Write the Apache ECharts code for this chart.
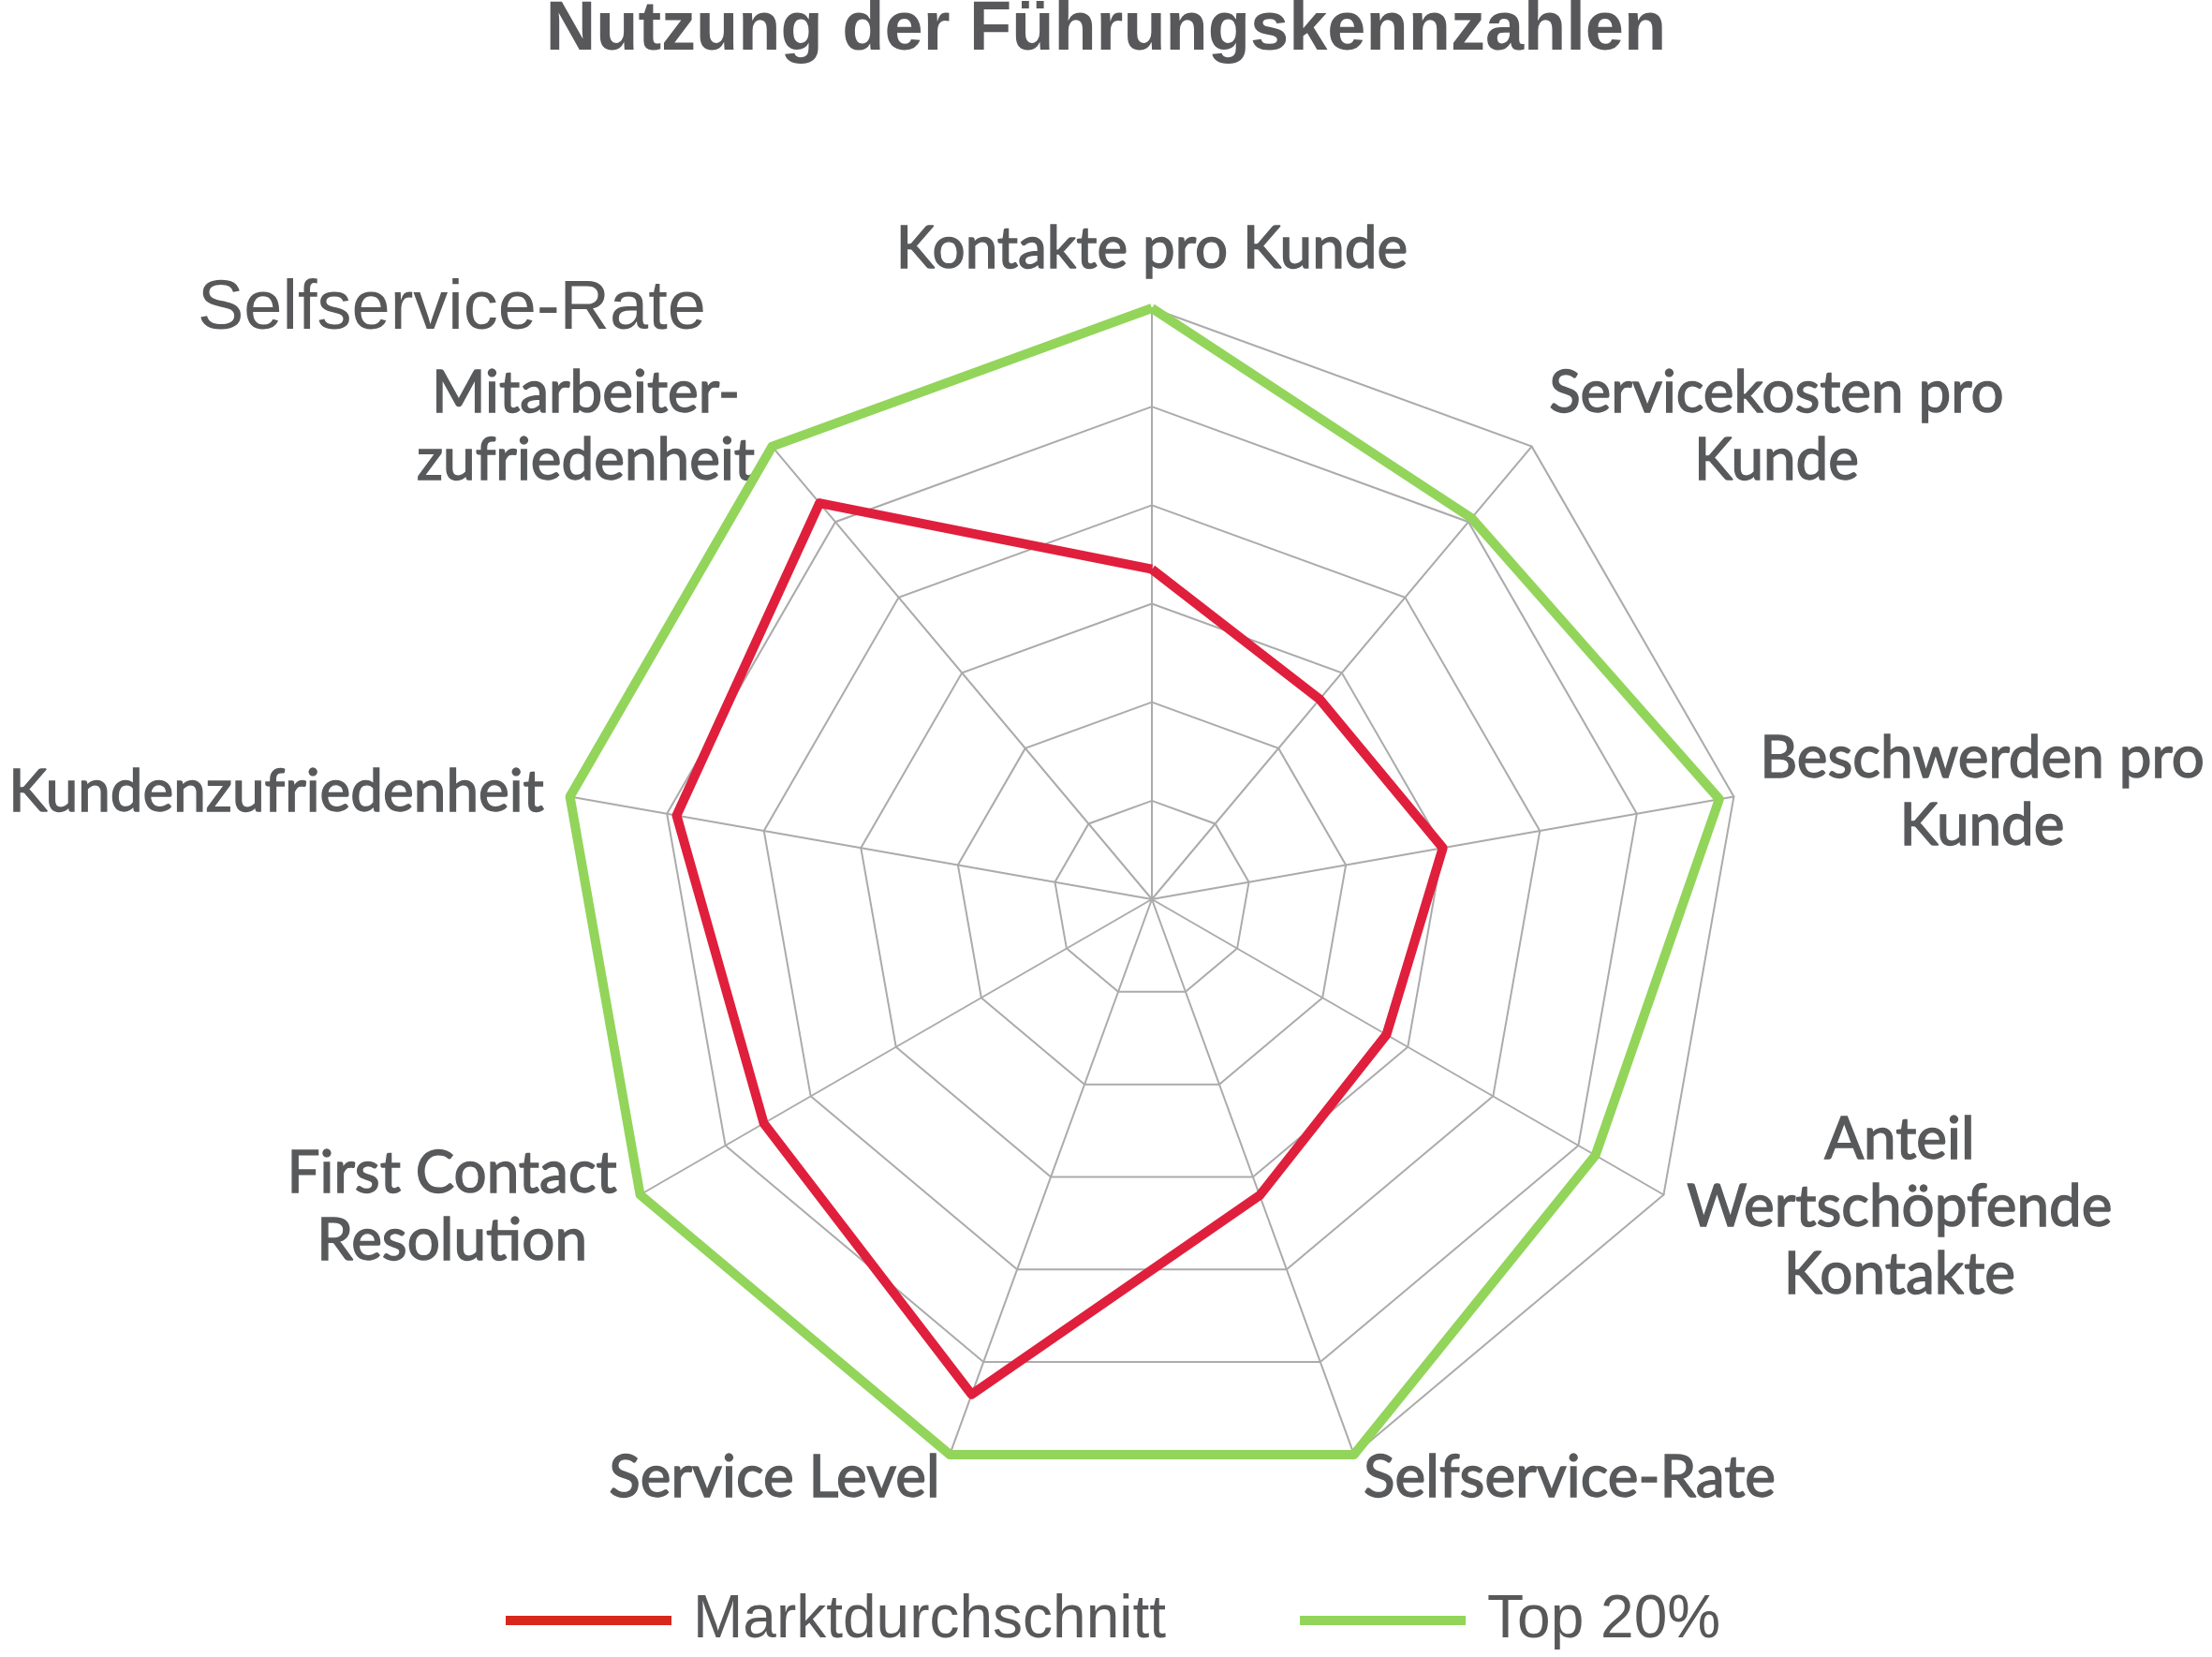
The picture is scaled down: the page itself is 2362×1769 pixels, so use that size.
<!DOCTYPE html>
<html>
<head>
<meta charset="utf-8">
<script src="https://cdn.jsdelivr.net/npm/echarts@6/dist/echarts.min.js"></script>
<style>
html,body{margin:0;padding:0;background:#fff;}
#chart{width:2362px;height:1769px;}
</style>
</head>
<body>
<div id="chart"></div>
<script>
// Data (clockwise from top)
const categories = ['Kontakte pro Kunde', 'Servicekosten pro\nKunde', 'Beschwerden pro\nKunde', 'Anteil\nWertschöpfende\nKontakte', 'Selfservice-Rate', 'Service Level', 'First Contact\nResolution', 'Kundenzufriedenheit', 'Mitarbeiter-\nzufriedenheit'];
const marktdurchschnitt = [3.35, 2.65, 3.0, 2.75, 3.2, 5.35, 4.55, 4.9, 5.25];
const top20 = [6, 5.05, 5.85, 5.2, 6, 6, 6, 6, 6];
const seriesNames = ['Marktdurchschnitt', 'Top 20%'];
const axisMax = 6;
const strayLabel = 'Selfservice-Rate';
const titleText = 'Nutzung der Führungskennzahlen';

// ECharts radar runs counter-clockwise: reorder to get clockwise layout
const order = [0, 8, 7, 6, 5, 4, 3, 2, 1];
const reorder = arr => order.map(i => arr[i]);

const LABEL_FONT = 'Lato';
const LABEL_SIZE = 62;
const LABEL_COLOR = '#58595b';
const ctx = document.createElement('canvas').getContext('2d');
ctx.font = LABEL_SIZE + 'px ' + LABEL_FONT;

const rich = {};
const orderedCats = reorder(categories);
orderedCats.forEach((name, i) => {
  const lines = name.split('\n');
  const w = Math.max(...lines.map(l => ctx.measureText(l).width));
  rich['l' + i] = {
    width: Math.ceil(w) + 2,
    align: 'center',
    fontFamily: LABEL_FONT,
    fontSize: LABEL_SIZE,
    lineHeight: 72,
    color: LABEL_COLOR,
    textBorderColor: LABEL_COLOR,
    textBorderWidth: 1.4
  };
});

const chart = echarts.init(document.getElementById('chart'), null, {renderer: 'canvas'});
chart.setOption({
  backgroundColor: '#ffffff',
  animation: false,
  title: {
    text: titleText,
    left: 'center',
    top: -4,
    padding: 0,
    textStyle: {fontFamily: 'Liberation Sans', fontWeight: 'bold', fontSize: 74, color: '#58585a'}
  },
  legend: {
    left: 535,
    top: 1693,
    itemWidth: 177,
    itemHeight: 10,
    itemGap: 143,
    icon: 'rect',
    textStyle: {fontFamily: 'Liberation Sans', fontSize: 64, color: '#58585a', padding: [0, 0, 0, 18]},
    data: [
      {name: seriesNames[0], itemStyle: {color: '#d8271c'}},
      {name: seriesNames[1], itemStyle: {color: '#92d55a'}}
    ]
  },
  graphic: [{
    type: 'text',
    left: 211,
    top: 294,
    style: {text: strayLabel, font: '74px "Liberation Sans"', fill: '#58585a'}
  }],
  radar: {
    center: [1230, 960],
    radius: 631,
    startAngle: 90,
    splitNumber: 6,
    shape: 'polygon',
    nameGap: 27,
    axisName: {
      formatter: (name) => {
        const idx = orderedCats.indexOf(name);
        return name.split('\n').map(l => '{l' + idx + '|' + l + '}').join('\n');
      },
      rich: rich,
      color: LABEL_COLOR,
      fontFamily: LABEL_FONT,
      fontSize: LABEL_SIZE
    },
    indicator: orderedCats.map(n => ({name: n, min: 0, max: axisMax})),
    axisLine: {lineStyle: {color: '#ababab', width: 2}},
    splitLine: {lineStyle: {color: '#ababab', width: 2}},
    splitArea: {show: false},
    axisTick: {show: false},
    axisLabel: {show: false}
  },
  series: [{
    type: 'radar',
    symbol: 'none',
    data: [
      {name: seriesNames[0], value: reorder(marktdurchschnitt), lineStyle: {color: '#e01f3d', width: 10}, itemStyle: {color: '#e01f3d'}},
      {name: seriesNames[1], value: reorder(top20), lineStyle: {color: '#92d55a', width: 10}, itemStyle: {color: '#92d55a'}}
    ]
  }]
});
</script>
</body>
</html>
